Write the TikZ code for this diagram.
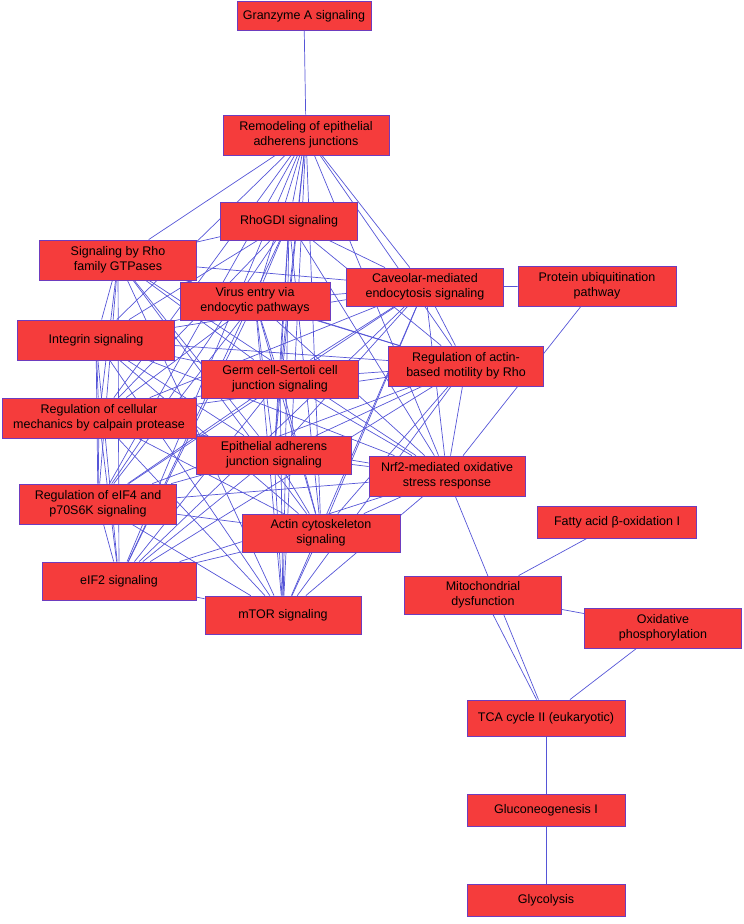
\documentclass[tikz,border=0pt]{standalone}
\usepackage{fontspec}
\setmainfont{Liberation Sans}
\usetikzlibrary{backgrounds}
\definecolor{boxred}{RGB}{245,60,60}
\definecolor{boxedge}{RGB}{110,60,190}
\definecolor{edgeblue}{RGB}{85,85,215}
\tikzset{
  box/.style={draw=boxedge, fill=boxred, line width=0.8pt, align=center, inner sep=1pt,
    font=\fontsize{12.5}{14.5}\selectfont, text=black},
  link/.style={draw=edgeblue, line width=0.7pt}
}
\begin{document}
\begin{tikzpicture}[x=1pt,y=-1pt]
\useasboundingbox (0,0) rectangle (744,924);
\node[box,minimum width=134pt,minimum height=29pt] (gz) at (304,16) {Granzyme A signaling};
\node[box,minimum width=166pt,minimum height=40pt] (rem) at (306,135) {Remodeling of epithelial\\adherens junctions};
\node[box,minimum width=137pt,minimum height=38pt] (rho) at (289,221) {RhoGDI signaling};
\node[box,minimum width=157pt,minimum height=40pt] (gtp) at (118,260) {Signaling by Rho\\family GTPases};
\node[box,minimum width=150pt,minimum height=38pt] (vir) at (255,301) {Virus entry via\\endocytic pathways};
\node[box,minimum width=157pt,minimum height=38pt] (cav) at (425,287) {Caveolar-mediated\\endocytosis signaling};
\node[box,minimum width=158pt,minimum height=40pt] (ubq) at (597,286) {Protein ubiquitination\\pathway};
\node[box,minimum width=157pt,minimum height=40pt] (int) at (96,340) {Integrin signaling};
\node[box,minimum width=157pt,minimum height=38pt] (ger) at (280,379) {Germ cell-Sertoli cell\\junction signaling};
\node[box,minimum width=155pt,minimum height=40pt] (act) at (466,366) {Regulation of actin-\\based motility by Rho};
\node[box,minimum width=194pt,minimum height=40pt] (cal) at (99,418) {Regulation of cellular\\mechanics by calpain protease};
\node[box,minimum width=155pt,minimum height=38pt] (epi) at (274,455) {Epithelial adherens\\junction signaling};
\node[box,minimum width=156pt,minimum height=40pt] (nrf) at (447,476) {Nrf2-mediated oxidative\\stress response};
\node[box,minimum width=157pt,minimum height=40pt] (eif4) at (98,504) {Regulation of eIF4 and\\p70S6K signaling};
\node[box,minimum width=158pt,minimum height=38pt] (acs) at (321,533) {Actin cytoskeleton\\signaling};
\node[box,minimum width=159pt,minimum height=32pt] (fat) at (617,522) {Fatty acid β-oxidation I};
\node[box,minimum width=154pt,minimum height=38pt] (eif2) at (119,581) {eIF2 signaling};
\node[box,minimum width=156pt,minimum height=38pt] (mtor) at (283,615) {mTOR signaling};
\node[box,minimum width=157pt,minimum height=38pt] (mit) at (483,595) {Mitochondrial\\dysfunction};
\node[box,minimum width=157pt,minimum height=40pt] (oxp) at (663,628) {Oxidative\\phosphorylation};
\node[box,minimum width=158pt,minimum height=36pt] (tca) at (546,718) {TCA cycle II (eukaryotic)};
\node[box,minimum width=158pt,minimum height=32pt] (glu) at (546,810) {Gluconeogenesis I};
\node[box,minimum width=158pt,minimum height=32pt] (gly) at (546,900) {Glycolysis};
\begin{pgfonlayer}{background}
\foreach \a/\b in {gz/rem,ubq/cav,ubq/nrf,nrf/tca,fat/mit,mit/oxp,mit/tca,oxp/tca,tca/glu,glu/gly}
  \draw[link] (\a) -- (\b);
\foreach \a [count=\i] in {rem,rho,gtp,vir,cav,int,ger,act,cal,epi,nrf,eif4,acs,eif2,mtor}{
  \foreach \b [count=\j] in {rem,rho,gtp,vir,cav,int,ger,act,cal,epi,nrf,eif4,acs,eif2,mtor}{
    \ifnum\j>\i \draw[link] (\a) -- (\b);\fi
  }
}
\end{pgfonlayer}
\end{tikzpicture}
\end{document}
